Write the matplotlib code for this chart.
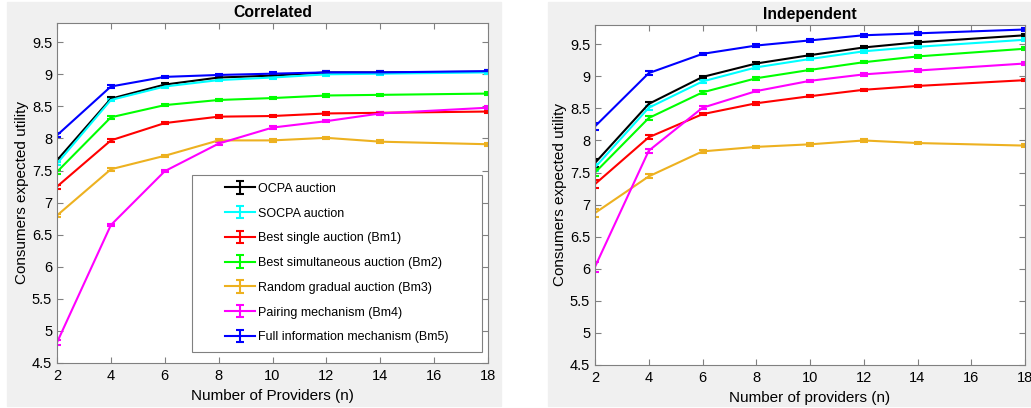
import matplotlib.pyplot as plt
from matplotlib.patches import Rectangle
import numpy as np

plt.rcParams['font.family'] = ['Liberation Sans', 'DejaVu Sans']

# Number of providers (no run at n = 16)
n = [2, 4, 6, 8, 10, 12, 14, 18]

labels = ['OCPA auction', 'SOCPA auction', 'Best single auction (Bm1)',
          'Best simultaneous auction (Bm2)', 'Random gradual auction (Bm3)',
          'Pairing mechanism (Bm4)', 'Full information mechanism (Bm5)']
colors = ['black', '#00ffff', '#ff0000', '#00ff00', '#edb120', '#ff00ff', '#0000ff']

# Correlated valuations
corr_ocpa = [7.66, 8.62, 8.84, 8.95, 8.98, 9.03, 9.03, 9.04]
corr_socpa = [7.61, 8.60, 8.81, 8.91, 8.95, 9.00, 9.01, 9.03]
corr_bm1 = [7.25, 7.97, 8.24, 8.34, 8.35, 8.39, 8.40, 8.42]
corr_bm2 = [7.48, 8.33, 8.52, 8.60, 8.63, 8.67, 8.68, 8.70]
corr_bm3 = [6.80, 7.52, 7.73, 7.97, 7.97, 8.01, 7.95, 7.91]
corr_bm4 = [4.82, 6.65, 7.49, 7.92, 8.17, 8.27, 8.39, 8.48]
corr_bm5 = [8.05, 8.81, 8.96, 8.99, 9.01, 9.03, 9.03, 9.05]
corr_err = [0.03, 0.02, 0.02, 0.02, 0.02, 0.02, 0.02, 0.02]

# Independent valuations
ind_ocpa = [7.65, 8.57, 8.99, 9.20, 9.33, 9.45, 9.53, 9.64]
ind_socpa = [7.58, 8.51, 8.92, 9.14, 9.27, 9.39, 9.46, 9.57]
ind_bm1 = [7.32, 8.05, 8.41, 8.58, 8.69, 8.79, 8.85, 8.94]
ind_bm2 = [7.50, 8.35, 8.75, 8.97, 9.10, 9.22, 9.31, 9.43]
ind_bm3 = [6.87, 7.44, 7.83, 7.90, 7.94, 8.00, 7.96, 7.92]
ind_bm4 = [6.03, 7.84, 8.51, 8.77, 8.93, 9.03, 9.09, 9.20]
ind_bm5 = [8.22, 9.05, 9.35, 9.48, 9.56, 9.64, 9.67, 9.73]
ind_err = [0.06, 0.03, 0.02, 0.02, 0.02, 0.02, 0.02, 0.02]

corr = [corr_ocpa, corr_socpa, corr_bm1, corr_bm2, corr_bm3, corr_bm4, corr_bm5]
ind = [ind_ocpa, ind_socpa, ind_bm1, ind_bm2, ind_bm3, ind_bm4, ind_bm5]

fig = plt.figure(figsize=(10.31, 4.08), dpi=100)
# grey figure panels behind each subplot
fig.patches.append(Rectangle((7 / 1031, 2 / 408), 494 / 1031, 404 / 408,
                             transform=fig.transFigure, color='#f0f0f0', zorder=-1))
fig.patches.append(Rectangle((548 / 1031, 2 / 408), 483 / 1031, 404 / 408,
                             transform=fig.transFigure, color='#f0f0f0', zorder=-1))

ax1 = fig.add_axes([57 / 1031, 45 / 408, 431 / 1031, 340 / 408])
ax2 = fig.add_axes([595 / 1031, 43 / 408, 430 / 1031, 340 / 408])


def draw(ax, data, err, title, xlabel):
    for ys, c, lab in zip(data, colors, labels):
        e = np.array(err)
        if c == '#ff00ff' and ys[0] < 6.5:
            e = e.copy()
            e[0] = 0.04 if title == 'Correlated' else 0.08
        ax.errorbar(n, ys, yerr=e, color=c, lw=1.5, capsize=3, capthick=1.5,
                    elinewidth=1.5, label=lab)
    ax.set_xlim(2, 18)
    ax.set_ylim(4.5, 9.8)
    ax.set_xticks(np.arange(2, 19, 2))
    ax.set_yticks(np.arange(4.5, 9.6, 0.5))
    ax.set_yticklabels(['4.5', '5', '5.5', '6', '6.5', '7', '7.5', '8', '8.5', '9', '9.5'])
    ax.tick_params(direction='in', top=True, right=True, labelsize=10.5,
                   color='#808080', length=4)
    ax.tick_params(axis='x', pad=4.5)
    for s in ax.spines.values():
        s.set_color('#808080')
        s.set_linewidth(0.8)
    ax.set_title(title, fontsize=11.3, fontweight='bold', pad=4)
    ax.set_xlabel(xlabel, fontsize=11, labelpad=4)
    ax.set_ylabel('Consumers expected utility', fontsize=11, labelpad=2)


draw(ax1, corr, corr_err, 'Correlated', 'Number of Providers (n)')
draw(ax2, ind, ind_err, 'Independent', 'Number of providers (n)')

# legend box, drawn separately so its padding can be wider than tall
ax1.add_patch(Rectangle((0.3132, 0.0324), 0.6729, 0.5206, transform=ax1.transAxes,
                        facecolor='white', edgecolor='#808080', lw=0.8, zorder=3))
ax1.legend(loc='center', bbox_to_anchor=(0.6485, 0.294), fontsize=9,
           frameon=False, handlelength=2.4, labelspacing=1.02, borderpad=0,
           handletextpad=0.24, borderaxespad=0)

fig.savefig('out.png', dpi=100)
